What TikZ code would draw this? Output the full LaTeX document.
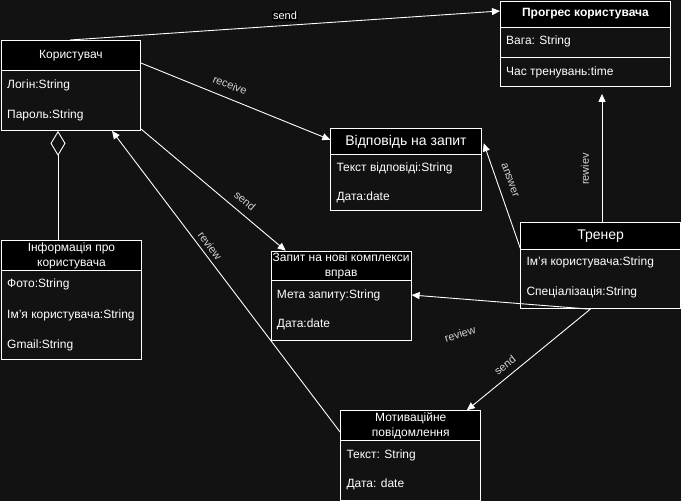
\documentclass[tikz,border=0pt]{standalone}
\usepackage{fontspec}
\setmainfont{Liberation Sans}
\usetikzlibrary{arrows.meta,calc}
\definecolor{canvas}{RGB}{18,18,18}
\definecolor{edgelabel}{RGB}{210,210,210}
\begin{document}
\begin{tikzpicture}[x=1pt,y=-1pt,
  frame/.style={draw=white, line width=0.9pt, anchor=north west, inner sep=0pt},
  header/.style={draw=white, line width=0.9pt, fill=black, text=white, anchor=north west,
    inner sep=0pt, align=center, font=\fontsize{12}{15}\selectfont},
  bigheader/.style={header, font=\fontsize{14}{17}\selectfont},
  boldheader/.style={header, font=\fontsize{12}{15}\selectfont\bfseries},
  attr/.style={anchor=west, text=white, inner sep=0pt, font=\fontsize{12}{14}\selectfont},
  conn/.style={draw=white, line width=0.9pt, -{Triangle[length=8pt,width=7pt]}},
  elabel/.style={text=edgelabel, inner sep=0pt, font=\fontsize{11}{13}\selectfont},
]
% canvas
\fill[canvas] (0,0) rectangle (681,501);
\useasboundingbox (0,0) rectangle (681,501);

% ---- classes ----
% Користувач
\node[frame, minimum width=139pt, minimum height=90pt] (user) at (1,40) {};
\node[header, minimum width=139pt, minimum height=30pt] (userH) at (user.north west) {Користувач};
\node[attr] (userA1) at ($(user.north west)+(6,45)$) {Логін:String};
\node[attr] (userA2) at ($(user.north west)+(6,75)$) {Пароль:String};

% Прогрес користувача
\node[frame, minimum width=170pt, minimum height=85.5pt] (prog) at (500,0.5) {};
\node[boldheader, minimum width=170pt, minimum height=26pt] (progH) at (prog.north west) {Прогрес користувача};
\draw[white, line width=0.9pt] ($(prog.north west)+(0,56.5)$) coordinate (progS1) -- ($(prog.north east)+(0,56.5)$) coordinate (progS2);
\node[attr] (progA1) at ($(prog.north west)+(6,40.5)$) {Вага: String};
\node[attr] (progA2) at ($(prog.north west)+(6,71.5)$) {Час тренувань:time};

% Інформація про користувача
\node[frame, minimum width=140pt, minimum height=119pt] (info) at (1,240) {};
\node[header, minimum width=140pt, minimum height=30pt] (infoH) at (info.north west) {Інформація про\\користувача};
\node[attr] (infoA1) at ($(info.north west)+(6,44.5)$) {Фото:String};
\node[attr] (infoA2) at ($(info.north west)+(6,75)$) {Ім'я користувача:String};
\node[attr] (infoA3) at ($(info.north west)+(6,105)$) {Gmail:String};

% Відповідь на запит
\node[frame, minimum width=150.5pt, minimum height=82pt] (reply) at (330.3,128.3) {};
\node[bigheader, minimum width=150.5pt, minimum height=26pt] (replyH) at (reply.north west) {Відповідь на запит};
\node[attr] (replyA1) at ($(reply.north west)+(6,40)$) {Текст відповіді:String};
\node[attr] (replyA2) at ($(reply.north west)+(6,69.5)$) {Дата:date};

% Запит на нові комплекси вправ
\node[frame, minimum width=140pt, minimum height=89.5pt] (req) at (270.7,250.7) {};
\node[header, minimum width=140pt, minimum height=29.6pt] (reqH) at (req.north west) {Запит на нові комплекси\\вправ};
\node[attr] (reqA1) at ($(req.north west)+(6,44.3)$) {Мета запиту:String};
\node[attr] (reqA2) at ($(req.north west)+(6,74)$) {Дата:date};

% Тренер
\node[frame, minimum width=159.7pt, minimum height=86pt] (trainer) at (520.3,222.3) {};
\node[bigheader, minimum width=159.7pt, minimum height=26.7pt] (trainerH) at (trainer.north west) {Тренер};
\node[attr] (trainerA1) at ($(trainer.north west)+(6,40)$) {Ім'я користувача:String};
\node[attr] (trainerA2) at ($(trainer.north west)+(6,70)$) {Спеціалізація:String};

% Мотиваційне повідомлення
\node[frame, minimum width=140pt, minimum height=89.5pt] (motiv) at (340.3,410.3) {};
\node[header, minimum width=140pt, minimum height=30pt] (motivH) at (motiv.north west) {Мотиваційне\\повідомлення};
\node[attr] (motivA1) at ($(motiv.north west)+(6,45)$) {Текст: String};
\node[attr] (motivA2) at ($(motiv.north west)+(6,74)$) {Дата: date};

% ---- relations ----
\draw[conn] ($(user.north west)+(69,0)$) -- ($(prog.north west)+(0,10.5)$)
  node[midway, yshift=9.5pt, fill=black, text=white, inner sep=1pt, font=\fontsize{11}{13}\selectfont] (lblSendTop) {send};

\draw[conn] ($(user.north east)+(0,23)$) -- ($(reply.north west)+(0,11.5)$);
\node[elabel, rotate=-22] (lblReceive) at (230,85) {receive};

\draw[conn] ($(user.south east)+(0,-2)$) -- ($(req.north west)+(15,0)$);
\node[elabel, rotate=-40] (lblSendReq) at (245,201) {send};

\draw[conn] ($(motiv.north west)+(0,22)$) -- ($(user.south west)+(111,0)$);
\node[elabel, rotate=-53] (lblReviewUser) at (210,246) {review};

\draw[draw=white, line width=0.9pt, {Diamond[open,length=25pt,width=15pt]}-]
  ($(user.south west)+(57,0)$) -- ($(info.north west)+(57,0)$);

\draw[conn] ($(trainer.north west)+(81.7,0)$) -- ($(prog.south west)+(102,7)$);
\node[elabel, rotate=90] (lblRewiev) at (585,169) {rewiev};

\draw[conn] ($(trainer.north west)+(0,26)$) -- ($(reply.north east)+(2,15)$);
\node[elabel, rotate=-70] (lblAnswer) at (510,180) {answer};

\draw[conn] ($(trainer.south west)+(70,0)$) -- ($(req.north east)+(0,44.3)$);
\node[elabel, rotate=18] (lblReviewReq) at (460,334) {review};

\draw[conn] ($(trainer.south west)+(70,0)$) -- ($(motiv.north west)+(126.5,0)$);
\node[elabel, rotate=39] (lblSendMotiv) at (505,365) {send};
\end{tikzpicture}
\end{document}
